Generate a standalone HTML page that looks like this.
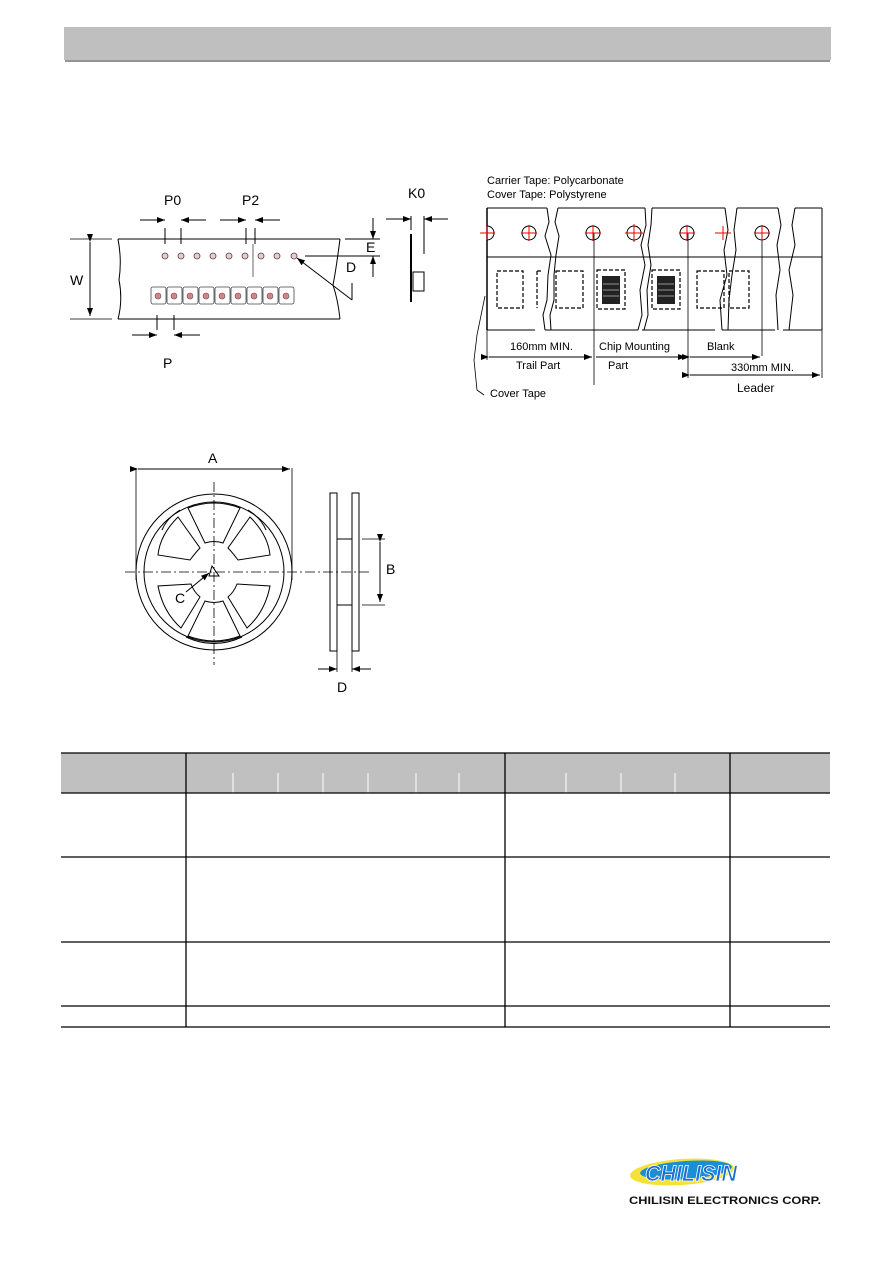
<!DOCTYPE html>
<html><head><meta charset="utf-8"><style>
html,body{margin:0;padding:0;background:#fff;}
svg{display:block;font-family:"Liberation Sans",Arial,sans-serif;}
</style></head><body>
<svg width="893" height="1263" viewBox="0 0 893 1263" xmlns="http://www.w3.org/2000/svg">
<defs>
<marker id="ar" markerWidth="8" markerHeight="6" refX="8" refY="3" orient="auto" markerUnits="userSpaceOnUse"><path d="M0,0 L8,3 L0,6z" fill="#000"/></marker>
</defs>
<rect x="64" y="27" width="767" height="33" fill="#bfbfbf"/>
<rect x="65" y="60" width="765" height="2" fill="#939393"/>

<g stroke="#000" stroke-width="1" fill="none">
<path d="M118,239 L340,239 M118,319 L340,319"/>
<path d="M118,239 Q122,260 119,280 Q123,300 118,319"/>
<path d="M340,239 Q336,270 333,285 Q338,300 340,319"/>
<path d="M70,239 L112,239 M70,319 L112,319" stroke-width="0.8"/>
<path d="M90,242 L90,316" marker-start="url(#ar)" marker-end="url(#ar)"/>
<path d="M165,228 L165,244 M181,228 L181,244 M246,228 L246,244 M255,228 L255,244"/>
<path d="M140,220 L165,220" marker-end="url(#ar)"/><path d="M206,220 L181,220" marker-end="url(#ar)"/>
<path d="M220,220 L246,220" marker-end="url(#ar)"/><path d="M280,220 L255,220" marker-end="url(#ar)"/>
<path d="M253,244 L253,277" stroke-width="0.6"/>
<path d="M157,315 L157,330 M174,315 L174,330"/>
<path d="M132,335 L157,335" marker-end="url(#ar)"/><path d="M200,335 L174,335" marker-end="url(#ar)"/>
<path d="M345,239 L380,239 M305,256 L380,256"/>
<path d="M373,218 L373,239" marker-end="url(#ar)"/><path d="M373,277 L373,256" marker-end="url(#ar)"/>
<path d="M352,300 L297,258" marker-end="url(#ar)"/><path d="M352,300 L352,283"/>
<path d="M411,216 L411,230 M424,216 L424,254"/>
<path d="M386,219 L411,219" marker-end="url(#ar)"/><path d="M448,219 L424,219" marker-end="url(#ar)"/>
<path d="M411,234 L411,302" stroke-width="2"/>
<rect x="413" y="272" width="11" height="19"/>
</g>
<g fill="#f4c6c6" stroke="#444" stroke-width="0.8">
<circle cx="165" cy="256" r="3"/><circle cx="181" cy="256" r="3"/><circle cx="197" cy="256" r="3"/><circle cx="213" cy="256" r="3"/><circle cx="229" cy="256" r="3"/><circle cx="245" cy="256" r="3"/><circle cx="261" cy="256" r="3"/><circle cx="277" cy="256" r="3"/><circle cx="294" cy="256" r="3"/>
</g>
<g stroke="#444" stroke-width="0.8" fill="#fff">
<rect x="151" y="287" width="15" height="17" rx="2"/><rect x="167" y="287" width="15" height="17" rx="2"/><rect x="183" y="287" width="15" height="17" rx="2"/><rect x="199" y="287" width="15" height="17" rx="2"/><rect x="215" y="287" width="15" height="17" rx="2"/><rect x="231" y="287" width="15" height="17" rx="2"/><rect x="247" y="287" width="15" height="17" rx="2"/><rect x="263" y="287" width="15" height="17" rx="2"/><rect x="279" y="287" width="15" height="17" rx="2"/>
</g>
<g fill="#e08080" stroke="#555" stroke-width="0.6">
<circle cx="158" cy="296" r="3"/><circle cx="174" cy="296" r="3"/><circle cx="190" cy="296" r="3"/><circle cx="206" cy="296" r="3"/><circle cx="222" cy="296" r="3"/><circle cx="238" cy="296" r="3"/><circle cx="254" cy="296" r="3"/><circle cx="270" cy="296" r="3"/><circle cx="286" cy="296" r="3"/>
</g>
<g font-size="14" fill="#000">
<text x="164" y="205">P0</text><text x="242" y="205">P2</text><text x="408" y="198">K0</text>
<text x="70" y="285">W</text><text x="366" y="252">E</text><text x="346" y="272">D</text><text x="163" y="368">P</text>
</g>

<g font-size="11" fill="#000">
<text x="487" y="184">Carrier Tape: Polycarbonate</text>
<text x="487" y="198">Cover Tape: Polystyrene</text>
<text x="510" y="350">160mm MIN.</text><text x="599" y="350">Chip Mounting</text><text x="707" y="350">Blank</text>
<text x="516" y="369">Trail  Part</text><text x="608" y="369">Part</text><text x="731" y="371">330mm MIN.</text>
<text x="737" y="392" font-size="12">Leader</text><text x="490" y="397">Cover Tape</text>
</g>
<g stroke="#000" stroke-width="1" fill="none">
<path d="M487,208 L547,208 M558,208 L645,208 M652,208 L725,208 M737,208 L778,208 M795,208 L822,208"/>
<path d="M487,330 L535,330 M545,330 L638,330 M642,330 L715,330 M722,330 L775,330 M783,330 L822,330"/>
<path d="M487,257 L822,257"/>
<path d="M487,208 L487,330" stroke-width="1.5"/>
<path d="M547,208 L549,222 L545,236 L551,255 L548,275 L547,300 L543,315 L545,330"/>
<path d="M558,208 L555,222 L559,236 L556,255 L554,275 L554,300 L550,315 L551,330"/>
<path d="M645,208 L646,225 L641,245 L645,265 L640,290 L642,315 L638,330"/>
<path d="M652,208 L651,225 L648,245 L651,265 L647,290 L648,315 L644,330"/>
<path d="M725,208 L728,230 L724,250 L727,275 L720,300 L722,330"/>
<path d="M737,208 L734,230 L736,250 L732,275 L729,300 L728,330"/>
<path d="M778,208 L781,225 L777,245 L780,270 L776,295 L778,330"/>
<path d="M795,208 L792,225 L795,245 L789,270 L793,295 L789,330"/>
<path d="M822,208 L822,330"/>
<circle cx="529" cy="233" r="7"/><circle cx="593" cy="233" r="7"/><circle cx="634" cy="233" r="7"/><circle cx="687" cy="233" r="7"/><circle cx="762" cy="233" r="7"/>
<path d="M487,226 A7,7 0 0 1 487,240"/>
<path d="M594,233 L594,385 M688,233 L688,378 M762,233 L762,356 M822,330 L822,378 M487,330 L487,360" stroke-width="0.8"/>
<path d="M489,357 L592,357" marker-start="url(#ar)" marker-end="url(#ar)"/>
<path d="M596,357 L686,357" marker-end="url(#ar)"/>
<path d="M690,357 L760,357" marker-start="url(#ar)" marker-end="url(#ar)"/>
<path d="M690,375 L820,375" marker-start="url(#ar)" marker-end="url(#ar)"/>
<path d="M485,296 L477,335 L474,360 L477,390 L484,395" stroke-width="0.8"/>
</g>
<g stroke="#e00" stroke-width="1">
<path d="M480,233 L495,233 M487,226 L487,240"/>
<path d="M521,233 L537,233 M529,225 L529,241 M585,233 L601,233 M593,225 L593,241 M625,233 L643,233 M634,224 L634,242 M679,233 L695,233 M687,225 L687,241 M715,233 L731,233 M723,226 L723,240 M754,233 L770,233 M762,225 L762,241"/>
</g>
<g stroke="#000" stroke-width="1.2" fill="none" stroke-dasharray="4,2">
<rect x="497" y="271" width="26" height="37"/><rect x="556" y="271" width="27" height="37"/><rect x="597" y="270" width="28" height="39"/><rect x="652" y="270" width="28" height="39"/><rect x="697" y="271" width="27" height="37"/><rect x="729" y="271" width="20" height="37"/>
<path d="M537,271 L542,271 M537,271 L537,308"/>
</g>
<g fill="#222"><rect x="602" y="276" width="18" height="28"/><rect x="657" y="276" width="18" height="28"/></g>
<g stroke="#bbb" stroke-width="0.8"><path d="M603,284 L619,284 M603,290 L619,290 M603,296 L619,296 M658,284 L674,284 M658,290 L674,290 M658,296 L674,296"/></g>

<g stroke="#000" stroke-width="1" fill="none">
<path d="M136,468 L136,580 M292,468 L292,580" stroke-width="0.8"/>
<path d="M138,469 L290,469" marker-start="url(#ar)" marker-end="url(#ar)"/>
<circle cx="214" cy="572" r="78"/><circle cx="214" cy="572" r="70"/>
<path d="M188,508 Q214,498 240,508 L223,543 Q214,540 205,543 Z"/>
<path d="M250,517 Q268,535 270,555 L238,560 Q232,552 228,548 Z"/>
<path d="M270,586 Q265,612 247,628 L228,597 Q234,592 237,584 Z"/>
<path d="M240,636 Q214,646 188,636 L205,601 Q214,604 223,601 Z"/>
<path d="M158,586 Q163,612 181,628 L200,597 Q194,592 191,584 Z"/>
<path d="M178,517 Q160,535 158,555 L190,560 Q196,552 200,548 Z"/>
<path d="M180,510 Q167,518 162,530" /><path d="M248,510 Q261,518 266,530"/>
<path d="M186,637 Q214,650 242,637"/>
<path d="M214,482 L214,665 M125,572 L370,572" stroke-dasharray="10,3,2,3" stroke-width="0.8"/>
<path d="M212,566 L209,576 L219,576 Z"/>
<path d="M186,592 L209,573" marker-end="url(#ar)"/>
<rect x="330" y="493" width="7" height="158"/><rect x="352" y="493" width="7" height="158"/>
<path d="M337,539 L352,539 M337,605 L352,605"/>
<path d="M362,539 L385,539 M362,605 L385,605" stroke-width="0.8"/>
<path d="M380,542 L380,602" marker-start="url(#ar)" marker-end="url(#ar)"/>
<path d="M337,651 L337,672 M352,651 L352,672" stroke-width="0.8"/>
<path d="M318,669 L337,669" marker-end="url(#ar)"/><path d="M371,669 L352,669" marker-end="url(#ar)"/>
</g>
<g font-size="14" fill="#000"><text x="208" y="463">A</text><text x="386" y="574">B</text><text x="175" y="603">C</text><text x="337" y="692">D</text></g>

<rect x="61" y="753" width="769" height="40" fill="#c0c0c0"/>
<g stroke="#fff" stroke-width="1"><path d="M233,773 L233,793 M278,773 L278,793 M323,773 L323,793 M368,773 L368,793 M416,773 L416,793 M459,773 L459,793 M566,773 L566,793 M621,773 L621,793 M675,773 L675,793"/></g>
<g stroke="#000" stroke-width="1.3">
<path d="M61,753 L830,753 M61,793 L830,793 M61,857 L830,857 M61,942 L830,942 M61,1006 L830,1006 M61,1027 L830,1027"/>
<path d="M186,753 L186,1027 M505,753 L505,1027 M730,753 L730,1027"/>
</g>

<ellipse cx="682" cy="1172" rx="52" ry="13" fill="#f5e13a" transform="rotate(-4 682 1172)"/>
<ellipse cx="686" cy="1170" rx="46" ry="9" fill="#1a8fd6" transform="rotate(-4 686 1170)"/>
<text x="645" y="1181" font-size="22" font-weight="bold" font-style="italic" fill="#1a6fd0" stroke="#fff" stroke-width="0.8" textLength="92" lengthAdjust="spacingAndGlyphs">CHILISIN</text>
<text x="629" y="1204" font-size="11" font-weight="bold" fill="#111" textLength="192" lengthAdjust="spacingAndGlyphs">CHILISIN ELECTRONICS CORP.</text>
</svg>
</body></html>
